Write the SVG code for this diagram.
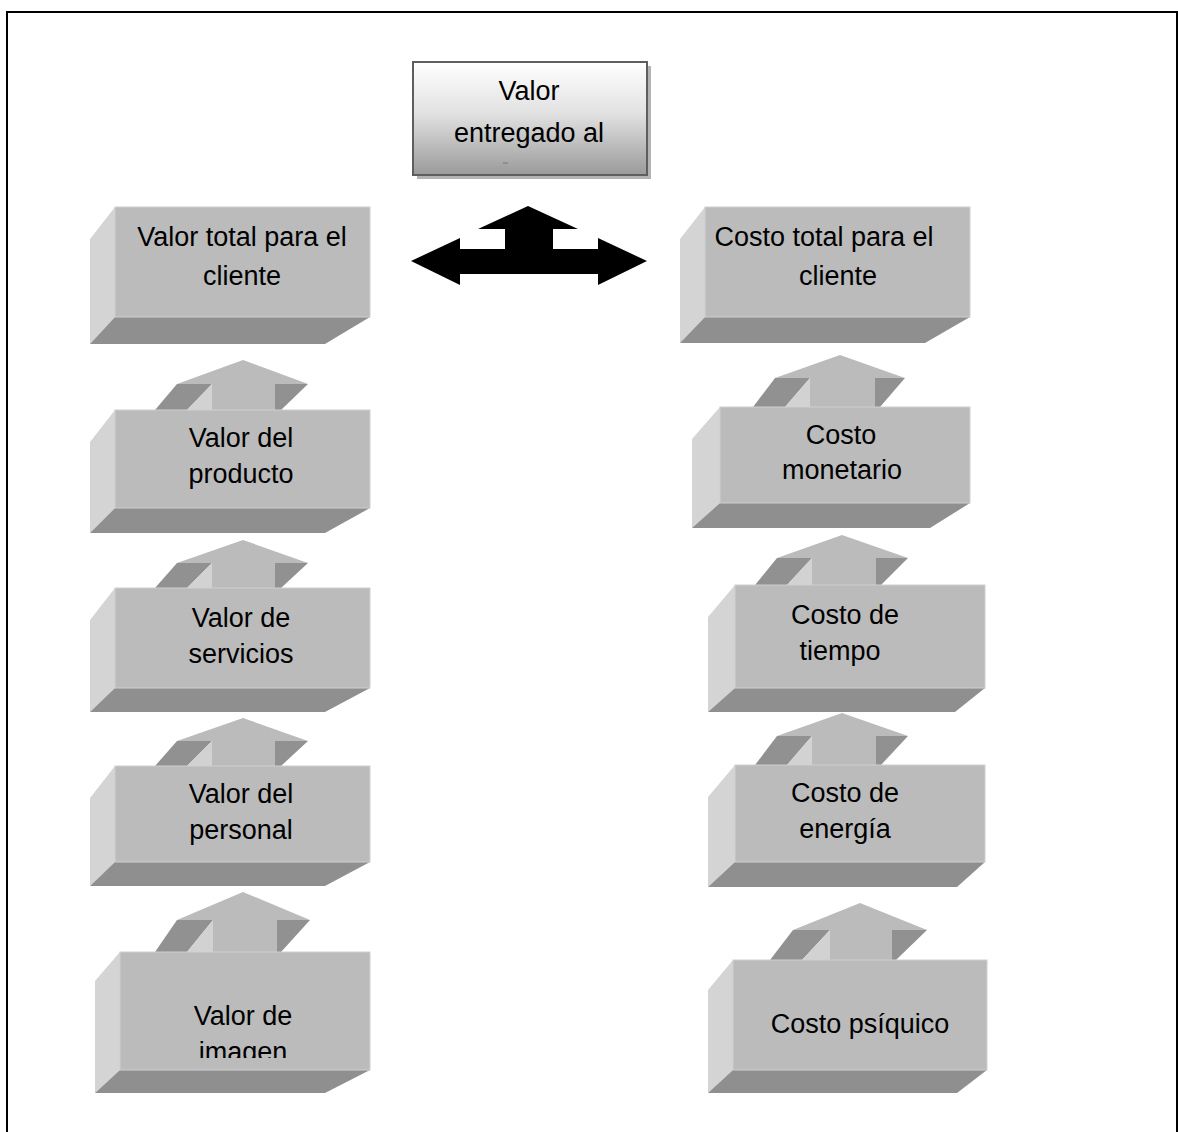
<svg xmlns="http://www.w3.org/2000/svg" width="1178" height="1132" viewBox="0 0 1178 1132">
<style>
.front{fill:#bbbbbb;stroke:#cfcfcf;stroke-width:1}
.side{fill:#d4d4d4}
.bot{fill:#8f8f8f}
.dark{fill:#919191}
.lite{fill:#d2d2d2}
.head{fill:#bbbbbb}
.lbl{font-family:"Liberation Sans",Arial,sans-serif;font-size:27px;fill:#000;text-anchor:middle}
</style>
<defs>
<linearGradient id="gTop" x1="0" y1="0" x2="0" y2="1">
<stop offset="0" stop-color="#ffffff"/>
<stop offset="0.45" stop-color="#e2e2e2"/>
<stop offset="1" stop-color="#9a9a9a"/>
</linearGradient>
<clipPath id="clipImg"><rect x="100" y="950" width="280" height="108"/></clipPath>
</defs>
<rect width="1178" height="1132" fill="#ffffff"/>
<path d="M7,1132 V12 H1177 V1132" fill="none" stroke="#000" stroke-width="2"/>

<g id="n-valor-entregado">
<rect x="417" y="66" width="234" height="113" fill="#b3b3b3"/>
<rect x="413" y="62" width="234" height="113" fill="url(#gTop)" stroke="#5e5e5e" stroke-width="2"/>
<text class="lbl" x="529" y="100">Valor</text>
<text class="lbl" x="529" y="142">entregado al</text>
<line x1="503" y1="163" x2="508" y2="163" stroke="#777" stroke-width="1"/>
</g>

<g id="connectors">
<polygon fill="#000" points="411,261 460,238 460,249 505,249 505,229 478,229 528,206 578,229 553,229 553,249 598,249 598,238 647,261 598,285 598,274 460,274 460,285"/>
</g>

<g id="n-valor-total">
<polygon class="side" points="90,239 115,207 115,317 90,344"/>
<polygon class="bot" points="115,317 370,317 325,344 90,344"/>
<rect class="front" x="115" y="207" width="255" height="110"/>
<text class="lbl" x="242" y="246">Valor total para el</text>
<text class="lbl" x="242" y="285">cliente</text>
</g>

<g id="n-valor-producto">
<polygon class="head" points="177,384 243,360 308,384 275,384 275,410 212,410 212,384"/>
<polygon class="dark" points="177,384 212,384 187,410 155,410"/>
<polygon class="lite" points="212,384 212,410 187,410"/>
<polygon class="dark" points="275,384 308,384 281,410 275,410"/>
<polygon class="side" points="90,442 115,410 115,508 90,533"/>
<polygon class="bot" points="115,508 370,508 325,533 90,533"/>
<rect class="front" x="115" y="410" width="255" height="98"/>
<text class="lbl" x="241" y="447">Valor del</text>
<text class="lbl" x="241" y="483">producto</text>
</g>

<g id="n-valor-servicios">
<polygon class="head" points="177,563 243,540 308,563 275,563 275,588 212,588 212,563"/>
<polygon class="dark" points="177,563 212,563 187,588 155,588"/>
<polygon class="lite" points="212,563 212,588 187,588"/>
<polygon class="dark" points="275,563 308,563 281,588 275,588"/>
<polygon class="side" points="90,620 115,588 115,688 90,712"/>
<polygon class="bot" points="115,688 370,688 325,712 90,712"/>
<rect class="front" x="115" y="588" width="255" height="100"/>
<text class="lbl" x="241" y="627">Valor de</text>
<text class="lbl" x="241" y="663">servicios</text>
</g>

<g id="n-valor-personal">
<polygon class="head" points="177,741 243,718 308,741 275,741 275,766 212,766 212,741"/>
<polygon class="dark" points="177,741 212,741 187,766 155,766"/>
<polygon class="lite" points="212,741 212,766 187,766"/>
<polygon class="dark" points="275,741 308,741 281,766 275,766"/>
<polygon class="side" points="90,798 115,766 115,862 90,886"/>
<polygon class="bot" points="115,862 370,862 325,886 90,886"/>
<rect class="front" x="115" y="766" width="255" height="96"/>
<text class="lbl" x="241" y="803">Valor del</text>
<text class="lbl" x="241" y="839">personal</text>
</g>

<g id="n-valor-imagen">
<polygon class="head" points="177,920 243,892 310,920 277,920 277,952 213,952 213,920"/>
<polygon class="dark" points="177,920 213,920 187,952 155,952"/>
<polygon class="lite" points="213,920 213,952 187,952"/>
<polygon class="dark" points="277,920 310,920 281,952 277,952"/>
<polygon class="side" points="95,981 120,952 120,1070 95,1093"/>
<polygon class="bot" points="120,1070 370,1070 325,1093 95,1093"/>
<rect class="front" x="120" y="952" width="250" height="118"/>
<g clip-path="url(#clipImg)">
<text class="lbl" x="243" y="1025">Valor de</text>
<text class="lbl" x="243" y="1061">imagen</text>
</g>
</g>

<g id="n-costo-total">
<polygon class="side" points="680,239 705,207 705,317 680,343"/>
<polygon class="bot" points="705,317 970,317 925,343 680,343"/>
<rect class="front" x="705" y="207" width="265" height="110"/>
<text class="lbl" x="824" y="246">Costo total para el</text>
<text class="lbl" x="838" y="285">cliente</text>
</g>

<g id="n-costo-monetario">
<polygon class="head" points="775,378 840,355 905,378 875,378 875,407 810,407 810,378"/>
<polygon class="dark" points="775,378 810,378 785,407 753,407"/>
<polygon class="lite" points="810,378 810,407 785,407"/>
<polygon class="dark" points="875,378 905,378 880,407 875,407"/>
<polygon class="side" points="692,439 720,407 720,503 692,528"/>
<polygon class="bot" points="720,503 970,503 930,528 692,528"/>
<rect class="front" x="720" y="407" width="250" height="96"/>
<text class="lbl" x="841" y="444">Costo</text>
<text class="lbl" x="842" y="479">monetario</text>
</g>

<g id="n-costo-tiempo">
<polygon class="head" points="777,558 842,535 908,558 876,558 876,585 812,585 812,558"/>
<polygon class="dark" points="777,558 812,558 787,585 755,585"/>
<polygon class="lite" points="812,558 812,585 787,585"/>
<polygon class="dark" points="876,558 908,558 881,585 876,585"/>
<polygon class="side" points="708,617 735,585 735,688 708,712"/>
<polygon class="bot" points="735,688 985,688 955,712 708,712"/>
<rect class="front" x="735" y="585" width="250" height="103"/>
<text class="lbl" x="845" y="624">Costo de</text>
<text class="lbl" x="840" y="660">tiempo</text>
</g>

<g id="n-costo-energia">
<polygon class="head" points="777,736 842,713 908,736 876,736 876,765 812,765 812,736"/>
<polygon class="dark" points="777,736 812,736 787,765 755,765"/>
<polygon class="lite" points="812,736 812,765 787,765"/>
<polygon class="dark" points="876,736 908,736 881,765 876,765"/>
<polygon class="side" points="708,797 735,765 735,862 708,887"/>
<polygon class="bot" points="735,862 985,862 957,887 708,887"/>
<rect class="front" x="735" y="765" width="250" height="97"/>
<text class="lbl" x="845" y="802">Costo de</text>
<text class="lbl" x="845" y="838">energía</text>
</g>

<g id="n-costo-psiquico">
<polygon class="head" points="793,930 860,903 927,930 892,930 892,960 830,960 830,930"/>
<polygon class="dark" points="793,930 830,930 802,960 770,960"/>
<polygon class="lite" points="830,930 830,960 802,960"/>
<polygon class="dark" points="892,930 927,930 896,960 892,960"/>
<polygon class="side" points="708,990 733,960 733,1070 708,1093"/>
<polygon class="bot" points="733,1070 987,1070 957,1093 708,1093"/>
<rect class="front" x="733" y="960" width="254" height="110"/>
<text class="lbl" x="860" y="1033">Costo psíquico</text>
</g>
</svg>
